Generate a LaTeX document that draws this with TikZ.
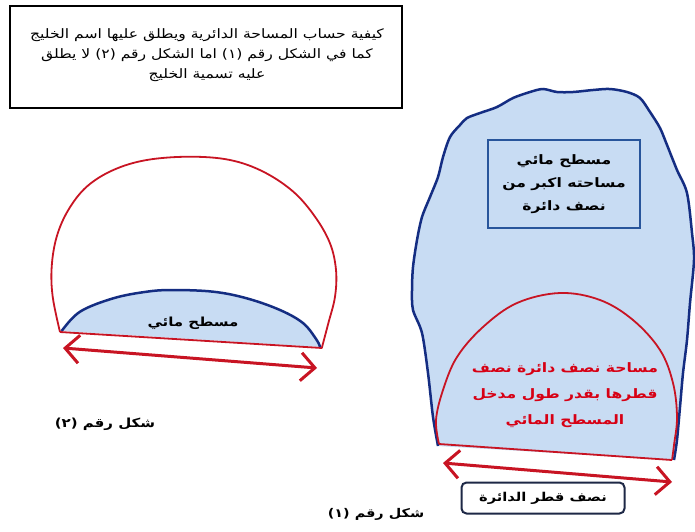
\documentclass[tikz,border=0pt]{standalone}
\usepackage{fontspec}
\TeXXeTstate=1
\newfontfamily\arabicfont[Script=Arabic,FakeStretch=1.2]{DejaVu Sans}
\usetikzlibrary{arrows.meta}
\definecolor{dred}{RGB}{200,20,35}
\definecolor{tred}{RGB}{215,0,20}
\definecolor{bblue}{RGB}{20,45,130}
\definecolor{boxblue}{RGB}{40,85,155}
\definecolor{lblue}{RGB}{200,220,243}
\definecolor{navy}{RGB}{30,40,70}
\newcommand{\ar}[1]{\beginR #1\endR}
\tikzset{
  redline/.style={draw=dred, line width=1.8pt},
  dblarrow/.style={draw=dred, line width=3pt,
    {Straight Barb[length=14pt,width=28pt]}-{Straight Barb[length=14pt,width=28pt]}},
  artext/.style={font=\arabicfont\bfseries, align=center, inner sep=0pt},
}
\begin{document}
\begin{tikzpicture}[x=1pt,y=-1pt]
\useasboundingbox (0,0) rectangle (695,531);
\fill[white] (0,0) rectangle (695,531);

% top box
\node[draw=black, line width=2.5pt, minimum width=392pt, minimum height=102pt, inner sep=0pt] (topbox) at (206,57) {};
\node[font=\arabicfont\fontsize{13}{20}\selectfont, align=center, inner sep=0pt] (toptext) at (207,55)
  {\ar{كيفية حساب المساحة الدائرية ويطلق عليها اسم الخليج}\\
   \ar{كما في الشكل رقم (١) اما الشكل رقم (٢) لا يطلق}\\
   \ar{عليه تسمية الخليج}};

% ---------- left figure ----------
\draw[redline] plot[smooth, tension=0.6] coordinates {
 (60,332) (52.7,296.7) (51.7,266.7) (56.7,236.7) (68.3,210) (86.7,186.7) (113.3,170) (146.7,160)
 (190,156.7) (230,160) (263.3,171.7) (293.3,191.7) (315,216.7) (330,243.3) (336,270) (335,296.7)
 (328.3,323.3) (321.7,348.3)};
\fill[lblue] plot[smooth, tension=0.6] coordinates {
 (61.7,331) (80,311.7) (113.3,298.3) (146.7,291.7) (173.3,290) (213.3,291.7) (246.7,298.3)
 (280,310) (303.3,323.3) (316.7,340) (320,347)} -- cycle;
\draw[bblue, line width=2.5pt] plot[smooth, tension=0.6] coordinates {
 (61.7,331) (80,311.7) (113.3,298.3) (146.7,291.7) (173.3,290) (213.3,291.7) (246.7,298.3)
 (280,310) (303.3,323.3) (316.7,340) (320,347)};
\coordinate (lbl) at (60,332);
\coordinate (lbr) at (322,348);
\draw[redline] (lbl) -- (lbr);
\node[artext, font=\arabicfont\bfseries\fontsize{12.5}{14}\selectfont] (lwater) at (193,323) {\ar{مسطح مائي}};
\coordinate (la1) at (63,348);
\coordinate (la2) at (317,368);
\draw[dblarrow] (la1) -- (la2);
\node[artext, font=\arabicfont\bfseries\fontsize{12.5}{14}\selectfont] (lab2) at (105,424) {\ar{شكل رقم (٢)}};

% ---------- right figure ----------
\fill[lblue] plot[smooth, tension=0.5] coordinates {
 (438,446) (433,417) (428,373) (422,333) (413,310) (412,290) (413,267) (417,240) (422,217)
 (430,197) (438,177) (443,157) (450,137) (460,125) (467,118) (480,113) (497,107) (513,98)
 (530,92) (543,89) (557,92) (573,92) (593,90) (610,89) (627,92) (640,98) (650,112) (660,128)
 (667,145) (677,170) (687,193) (692,233) (694,260) (690,303) (687,340) (683,373) (680,407)
 (677,440) (674,460)} -- cycle;
\draw[bblue, line width=2.5pt] plot[smooth, tension=0.5] coordinates {
 (438,446) (433,417) (428,373) (422,333) (413,310) (412,290) (413,267) (417,240) (422,217)
 (430,197) (438,177) (443,157) (450,137) (460,125) (467,118) (480,113) (497,107) (513,98)
 (530,92) (543,89) (557,92) (573,92) (593,90) (610,89) (627,92) (640,98) (650,112) (660,128)
 (667,145) (677,170) (687,193) (692,233) (694,260) (690,303) (687,340) (683,373) (680,407)
 (677,440) (674,460)};

\node[draw=boxblue, line width=2pt, fill=lblue, minimum width=152pt, minimum height=88pt, inner sep=0pt] (ibox) at (564,184) {};
\node[artext, font=\arabicfont\bfseries\fontsize{13}{23}\selectfont] (itext) at (564,184)
  {\ar{مسطح مائي}\\ \ar{مساحته اكبر من}\\ \ar{نصف دائرة}};

\draw[redline] plot[smooth, tension=0.6] coordinates {
 (439,444) (436,420) (443,390) (457,357) (483,327) (517,303) (560,293) (600,300) (633,320)
 (660,350) (673,383) (677,417) (674,445) (672,460)};
\coordinate (rbl) at (439,444);
\coordinate (rbr) at (672,460);
\draw[redline] (rbl) -- (rbr);
\node[artext, text=tred, font=\arabicfont\bfseries\fontsize{13}{26}\selectfont] (rtext) at (565,395)
  {\ar{مساحة نصف دائرة نصف}\\ \ar{قطرها بقدر طول مدخل}\\ \ar{المسطح المائي}};

\coordinate (ra1) at (443,463);
\coordinate (ra2) at (672,482);
\draw[dblarrow] (ra1) -- (ra2);

\node[draw=navy, line width=2pt, rounded corners=5pt, fill=white, minimum width=163pt, minimum height=31pt, inner sep=0pt,
      font=\arabicfont\bfseries\fontsize{12.2}{14}\selectfont] (rbox) at (543,498) {\ar{نصف قطر الدائرة}};
\node[artext, font=\arabicfont\bfseries\fontsize{12}{14}\selectfont] (lab1) at (376,514) {\ar{شكل رقم (١)}};
\end{tikzpicture}
\end{document}
